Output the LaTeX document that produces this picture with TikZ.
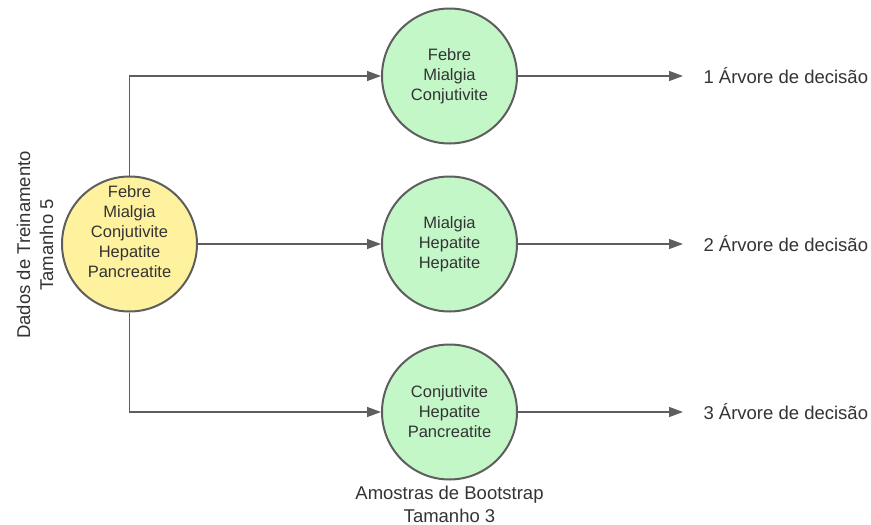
\documentclass[tikz,border=0pt]{standalone}
\usepackage{fontspec}
\setmainfont{Liberation Sans}
\usetikzlibrary{arrows.meta}
\definecolor{edge}{HTML}{5E5E5E}
\definecolor{txt}{HTML}{333333}
\definecolor{yfill}{HTML}{FFF29E}
\definecolor{gfill}{HTML}{C3F7C8}
\begin{document}
\begin{tikzpicture}[x=1pt,y=-1pt,
  circ/.style={circle,draw=edge,line width=2pt,minimum size=135pt,inner sep=0pt,align=center,text=txt,font=\fontsize{16.5}{20}\selectfont},
  ctext/.style={align=center,text=txt,font=\fontsize{16.5}{20}\selectfont,inner sep=0pt},
  conn/.style={draw=edge,line width=1.4pt,-{Triangle[length=14pt,width=10pt]}},
  lbl/.style={text=txt,font=\fontsize{18.5}{23}\selectfont,align=center}]
\useasboundingbox (0,0) rectangle (871,525);
\node[circ,fill=yfill] (src) at (129.5,244) {};
\node[ctext] (srct) at (129.5,232) {Febre\\Mialgia\\Conjutivite\\Hepatite\\Pancreatite};
\node[circ,fill=gfill] (g1) at (449.5,76) {Febre\\Mialgia\\Conjutivite};
\node[circ,fill=gfill] (g2) at (449.5,244) {Mialgia\\Hepatite\\Hepatite};
\node[circ,fill=gfill] (g3) at (449.5,412) {Conjutivite\\Hepatite\\Pancreatite};
\node[lbl,anchor=west] (t1) at (700,76) {1 Árvore de decisão};
\node[lbl,anchor=west] (t2) at (700,244) {2 Árvore de decisão};
\node[lbl,anchor=west] (t3) at (700,412) {3 Árvore de decisão};
\node[lbl,rotate=90] (dl) at (35,245) {Dados de Treinamento\\Tamanho 5};
\node[lbl] (bl) at (449.5,504) {Amostras de Bootstrap\\Tamanho 3};
\draw[conn] (src.north) |- (g1.west);
\draw[conn] (src.east) -- (g2.west);
\draw[conn] (src.south) |- (g3.west);
\draw[conn] (g1.east) -- ([xshift=-17pt]t1.west);
\draw[conn] (g2.east) -- ([xshift=-17pt]t2.west);
\draw[conn] (g3.east) -- ([xshift=-17pt]t3.west);
\end{tikzpicture}
\end{document}
